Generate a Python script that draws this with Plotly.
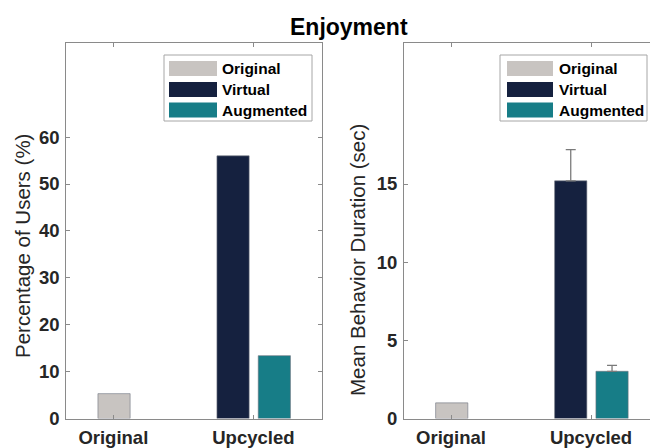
import plotly.graph_objects as go

W, H = 650, 448

# ---- data -------------------------------------------------------------
categories = ["Original", "Upcycled"]
series_names = ["Original", "Virtual", "Augmented"]

# Percentage of users showing the behaviour
pct_original = [5.3]
pct_virtual = [56.0]
pct_augmented = [13.4]
pct_ticks = [0, 10, 20, 30, 40, 50, 60]

# Mean behaviour duration (s) and upper error
dur_original = [1.0]
dur_virtual = [15.2]
dur_augmented = [3.02]
dur_virtual_err = [2.0]
dur_augmented_err = [0.38]
dur_ticks = [0, 5, 10, 15]

# ---- styling ----------------------------------------------------------
colors = {"Original": "#c8c4c1", "Virtual": "#15213f", "Augmented": "#177d87"}
FONT = "Liberation Sans, Arial, Helvetica, sans-serif"
AXIS_GRAY = "#8a8a8a"
TEXT = "#262626"

BAR_W = 0.23
OFFSETS = {"Original": -0.11, "Virtual": -0.26, "Augmented": 0.035}


def px(x):
    return x / W


def py(y):
    return 1 - y / H


fig = go.Figure()


def add_bars(xa, ya, orig, virt, aug, virt_err=None, aug_err=None):
    groups = [
        ("Original", [categories[0]], orig, None),
        ("Virtual", [categories[1]], virt, virt_err),
        ("Augmented", [categories[1]], aug, aug_err),
    ]
    for name, xs, ys, err in groups:
        kw = {}
        if err is not None:
            kw["error_y"] = dict(type="data", array=err, arrayminus=[0] * len(err),
                                 symmetric=False, color="#7a7a7a",
                                 thickness=1.3, width=5)
        fig.add_trace(go.Bar(
            x=xs, y=ys, name=name, xaxis=xa, yaxis=ya,
            width=BAR_W, offset=OFFSETS[name],
            marker=dict(color=colors[name],
                        line=dict(width=0.6, color="#6f7480")),
            showlegend=False, **kw))


add_bars("x", "y", pct_original, pct_virtual, pct_augmented)
add_bars("x2", "y2", dur_original, dur_virtual, dur_augmented,
         dur_virtual_err, dur_augmented_err)

tick_font = dict(family=FONT, size=18.5, color=TEXT, weight="bold")
common = dict(showline=True, linecolor=AXIS_GRAY, linewidth=1,
              ticks="inside", ticklen=4, tickcolor=AXIS_GRAY, tickwidth=1,
              showgrid=False, zeroline=False, automargin=False,
              tickfont=tick_font)

# plot areas (pixels): left 66-322, right 404-650, y 43-418.5
y_dom = [py(418.5), py(43.3)]
PX_PER_CAT = 140.0
x_lo = -0.336

fig.update_layout(
    width=W, height=H,
    margin=dict(l=0, r=0, t=0, b=0),
    paper_bgcolor="white", plot_bgcolor="white",
    barmode="overlay",
    xaxis=dict(domain=[px(66.3), px(322)], type="category",
               categoryorder="array", categoryarray=categories,
               range=[x_lo, x_lo + (322 - 66.3) / PX_PER_CAT],
               mirror="ticks", anchor="y", ticklabelstandoff=2, **common),
    yaxis=dict(domain=y_dom, range=[0, 80], tickvals=pct_ticks,
               mirror="ticks", anchor="x", ticklabelstandoff=2, **common),
    xaxis2=dict(domain=[px(404), 1.0], type="category",
                categoryorder="array", categoryarray=categories,
                range=[x_lo, x_lo + (650 - 404) / PX_PER_CAT],
                mirror="ticks", anchor="y2", ticklabelstandoff=2, **common),
    yaxis2=dict(domain=y_dom, range=[0, 24], tickvals=dur_ticks,
                mirror=False, anchor="x2", ticklabelstandoff=2, **common),
)

annotations = [
    dict(text="Enjoyment", x=px(349), y=py(27), xref="paper", yref="paper",
         xanchor="center", yanchor="middle", showarrow=False,
         font=dict(family=FONT, size=23, color="#000000", weight="bold")),
    dict(text="Percentage of Users (%)", x=px(22), y=py(246), xref="paper",
         yref="paper", xanchor="center", yanchor="middle", textangle=-90,
         showarrow=False, font=dict(family=FONT, size=20.5, color=TEXT)),
    dict(text="Mean Behavior Duration (sec)", x=px(357), y=py(260),
         xref="paper", yref="paper", xanchor="center", yanchor="middle",
         textangle=-90, showarrow=False,
         font=dict(family=FONT, size=20.5, color=TEXT)),
]

shapes = []
# legend boxes: (box left, box right, patch left, patch right, text left)
legend_boxes = [(164, 312, 169, 217, 220), (500, 647, 507, 553, 557)]
row_centers = [68.5, 89.5, 110.0]
for bl, br, pl, pr, tl in legend_boxes:
    shapes.append(dict(type="rect", xref="paper", yref="paper",
                       x0=px(bl), x1=px(br), y0=py(121), y1=py(55),
                       line=dict(color="#a6a6a6", width=1),
                       fillcolor="white", layer="above"))
    for name, yc in zip(series_names, row_centers):
        shapes.append(dict(type="rect", xref="paper", yref="paper",
                           x0=px(pl), x1=px(pr), y0=py(yc + 7.5),
                           y1=py(yc - 7.5), line=dict(width=0),
                           fillcolor=colors[name], layer="above"))
        annotations.append(dict(text=name, x=px(tl), y=py(yc), xref="paper",
                                yref="paper", xanchor="left", yanchor="middle",
                                showarrow=False,
                                font=dict(family=FONT, size=15.5,
                                          color="#000000", weight="bold")))

fig.update_layout(annotations=annotations, shapes=shapes)

fig.write_html("out.html")
